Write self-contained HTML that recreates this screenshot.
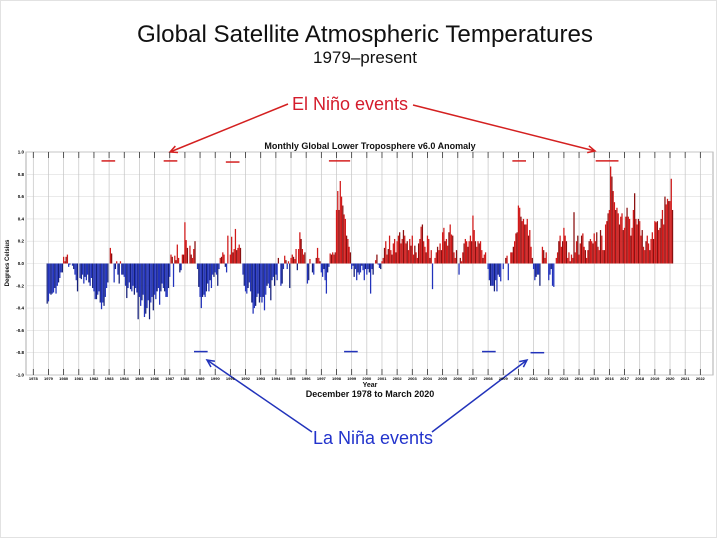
<!DOCTYPE html>
<html><head><meta charset="utf-8"><style>
html,body{margin:0;padding:0;background:#fff}
#wrap{position:relative;width:720px;height:540px;overflow:hidden;font-family:"Liberation Sans",sans-serif}
svg{position:absolute;left:0;top:0}
</style></head><body>
<div id="wrap">
<svg id="chart" width="720" height="540">
<rect x="0.5" y="0.5" width="716" height="537" fill="#fff" stroke="#e2e2e2"/>
<text x="365" y="42" font-size="24" text-anchor="middle" fill="#111" textLength="456" lengthAdjust="spacingAndGlyphs">Global Satellite Atmospheric Temperatures</text>
<text x="365" y="63" font-size="17" text-anchor="middle" fill="#111">1979–present</text>
<text x="350" y="110" font-size="18" text-anchor="middle" fill="#d41c2c">El Niño events</text>
<text x="373" y="444" font-size="18" text-anchor="middle" fill="#2233cc">La Niña events</text>
<text x="370" y="149" font-size="9" font-weight="bold" text-anchor="middle" fill="#111">Monthly Global Lower Troposphere v6.0 Anomaly</text>
<text x="370" y="387" font-size="7" font-weight="bold" text-anchor="middle" fill="#111">Year</text>
<text x="370" y="397" font-size="9" font-weight="bold" text-anchor="middle" fill="#111">December 1978 to March 2020</text>
<text transform="translate(9,263) rotate(-90)" font-size="6" font-weight="bold" text-anchor="middle" fill="#111">Degrees Celsius</text>
<text x="573" y="362" font-size="3.5" fill="#777">Copyright 2020 © University of Alabama in Huntsville</text>
<g id="grid"></g><g id="bars"></g><g id="marks"></g><g id="axes"></g>
</svg>
</div>
<script>
const startYear = 1978 + 11/12;
const anomalies = [
-0.36,
-0.34,-0.27,-0.28,-0.27,-0.26,-0.22,-0.27,-0.2,-0.17,-0.13,-0.08,-0.08,
0.06,0.02,0.06,0.08,-0.03,-0.01,0.0,-0.02,-0.05,-0.1,-0.15,-0.25,
0.0,-0.13,-0.14,-0.1,-0.18,-0.12,-0.15,-0.1,-0.17,-0.2,-0.13,-0.22,
-0.25,-0.32,-0.32,-0.28,-0.25,-0.35,-0.41,-0.35,-0.38,-0.3,-0.22,-0.17,
0.0,0.14,0.09,0.0,-0.17,-0.05,0.02,-0.1,-0.18,0.02,-0.1,-0.1,
-0.12,-0.2,-0.31,-0.22,-0.17,-0.23,-0.25,-0.2,-0.28,-0.22,-0.26,-0.5,
-0.3,-0.38,-0.33,-0.28,-0.48,-0.45,-0.4,-0.33,-0.5,-0.35,-0.3,-0.42,
-0.28,-0.32,-0.25,-0.22,-0.37,-0.25,-0.18,-0.22,-0.25,-0.3,-0.3,-0.22,
-0.12,0.08,0.06,-0.21,0.07,0.03,0.17,0.05,-0.08,-0.06,0.08,0.08,
0.37,0.21,0.14,0.0,0.16,0.08,0.05,0.13,0.2,0.0,-0.05,-0.21,
-0.3,-0.4,-0.3,-0.28,-0.3,-0.25,-0.18,-0.25,-0.15,-0.22,-0.1,-0.12,
-0.08,-0.1,-0.2,-0.05,0.05,0.06,0.1,0.08,-0.03,-0.08,0.25,0.0,
0.08,0.24,0.1,0.13,0.31,0.12,0.14,0.17,0.14,0.0,-0.1,-0.2,
-0.25,-0.27,-0.22,-0.17,-0.25,-0.35,-0.45,-0.4,-0.38,-0.3,-0.27,-0.35,
-0.3,-0.35,-0.3,-0.42,-0.28,-0.2,-0.18,-0.22,-0.33,-0.15,-0.12,-0.2,
-0.1,-0.15,0.05,0.0,-0.2,-0.18,-0.05,0.07,0.03,-0.05,0.02,-0.22,
0.05,0.08,0.06,0.04,0.13,-0.06,0.13,0.28,0.22,0.13,0.08,0.1,
0.0,-0.18,-0.15,0.04,0.0,-0.08,-0.1,0.0,0.05,0.14,0.05,0.02,
-0.08,-0.12,-0.05,-0.15,-0.27,-0.08,-0.03,0.09,0.08,0.1,0.08,0.1,
0.48,0.65,0.48,0.74,0.6,0.52,0.44,0.4,0.25,0.22,0.15,0.1,
-0.05,-0.02,-0.12,-0.05,-0.15,-0.08,-0.1,-0.08,-0.02,-0.06,-0.15,-0.05,
-0.1,-0.05,-0.08,-0.27,-0.05,-0.1,0.0,0.03,0.08,-0.01,-0.04,-0.05,
0.02,0.05,0.14,0.2,0.08,0.13,0.25,0.12,0.08,0.18,0.22,0.1,
0.2,0.25,0.28,0.18,0.22,0.3,0.25,0.18,0.2,0.12,0.22,0.16,
0.25,0.08,0.16,0.1,0.05,0.18,0.22,0.33,0.35,0.2,0.15,0.1,
0.25,0.22,0.05,0.12,-0.23,0.0,0.05,0.1,0.15,0.12,0.18,0.12,
0.28,0.32,0.2,0.22,0.16,0.28,0.35,0.26,0.25,0.1,0.05,0.12,
0.0,-0.1,0.05,0.02,0.1,0.18,0.22,0.2,0.15,0.2,0.25,0.2,
0.43,0.3,0.2,0.15,0.2,0.18,0.2,0.12,0.05,0.08,0.1,0.0,
-0.05,-0.15,-0.2,-0.2,-0.2,-0.25,-0.15,-0.25,-0.1,-0.12,-0.16,0.0,
-0.05,0.0,0.05,0.07,-0.15,0.0,0.1,0.1,0.15,0.2,0.27,0.28,
0.52,0.5,0.42,0.38,0.4,0.35,0.35,0.4,0.25,0.3,0.15,0.05,
-0.05,-0.15,-0.12,-0.1,-0.1,-0.2,0.0,0.15,0.12,0.05,0.1,0.0,
-0.15,-0.1,-0.05,-0.2,-0.21,0.0,0.05,0.1,0.2,0.25,0.15,0.2,
0.32,0.25,0.2,0.05,0.1,0.02,0.08,0.05,0.46,0.1,0.2,0.25,
0.08,0.18,0.25,0.27,0.15,0.12,0.05,0.12,0.2,0.22,0.2,0.18,
0.27,0.2,0.28,0.15,0.12,0.3,0.25,0.12,0.12,0.35,0.38,0.45,
0.48,0.87,0.78,0.65,0.55,0.48,0.5,0.45,0.35,0.42,0.45,0.3,
0.32,0.42,0.5,0.42,0.4,0.25,0.32,0.48,0.63,0.4,0.35,0.4,
0.38,0.25,0.3,0.15,0.12,0.2,0.25,0.18,0.12,0.22,0.28,0.22,
0.38,0.37,0.38,0.3,0.32,0.4,0.48,0.35,0.6,0.53,0.58,0.56,
0.56,0.76,0.48
];
const yearTicks = [1978,1979,1980,1981,1982,1983,1984,1985,1986,1987,1988,1989,1990,1991,1992,1993,1994,1995,1996,1997,1998,1999,2000,2001,2002,2003,2004,2005,2006,2007,2008,2009,2010,2011,2012,2013,2014,2015,2016,2017,2018,2019,2020,2021,2022];
const yTicks = [1.0,0.8,0.6,0.4,0.2,0.0,-0.2,-0.4,-0.6,-0.8,-1.0];
const elNinoStart = [1982.5,1986.6,1990.7,1997.5,2009.6,2015.1];
const elNinoEnd = [1983.4,1987.5,1991.6,1998.9,2010.5,2016.6];
const elNinoLevel = [0.92,0.92,0.91,0.92,0.92,0.92];
const laNinaStart = [1988.6,1998.5,2007.6,2010.8];
const laNinaEnd = [1989.5,1999.4,2008.5,2011.7];
const laNinaLevel = [-0.79,-0.79,-0.79,-0.8];

const PL=26, PR=713, PT=152, PB=375;
const xs = y => 33.3 + (y-1978)*15.16;
const ys = v => 263.5 - v*(PB-PT)/2;
const NS='http://www.w3.org/2000/svg';
function mk(tag, parent){const e=document.createElementNS(NS,tag);document.getElementById(parent).appendChild(e);return e;}

const bg = mk('rect','grid');
bg.setAttribute('x',PL);bg.setAttribute('y',PT);bg.setAttribute('width',PR-PL);bg.setAttribute('height',PB-PT);
bg.setAttribute('fill','#fff');bg.setAttribute('stroke','#999');bg.setAttribute('stroke-width','0.8');



yTicks.forEach(t=>{
  const l=mk('line','grid');
  l.setAttribute('x1',PL);l.setAttribute('x2',PR);l.setAttribute('y1',ys(t));l.setAttribute('y2',ys(t));
  l.setAttribute('stroke','#ddd');l.setAttribute('stroke-width','0.6');
  
  
  const tx=mk('text','axes');
  tx.setAttribute('x',PL-2);tx.setAttribute('y',ys(t)+1.5);tx.setAttribute('font-size','4.5');tx.setAttribute('text-anchor','end');tx.setAttribute('font-weight','bold');
  tx.textContent=t.toFixed(1);
  
  
});
yearTicks.forEach(yr=>{
  const x=xs(yr);
  const l=mk('line','grid');
  l.setAttribute('x1',x);l.setAttribute('x2',x);l.setAttribute('y1',PT);l.setAttribute('y2',PB);
  l.setAttribute('stroke','#c4c4c4');l.setAttribute('stroke-width','0.7');
  
  
  [PT,PB-6].forEach(y0=>{
    const tk=mk('line','axes');
    tk.setAttribute('x1',x);tk.setAttribute('x2',x);tk.setAttribute('y1',y0);tk.setAttribute('y2',y0+6);
    tk.setAttribute('stroke','#333');tk.setAttribute('stroke-width','0.8');
    
    
  });
  const tx=mk('text','axes');
  tx.setAttribute('x',x);tx.setAttribute('y',PB+5);tx.setAttribute('font-size','4');tx.setAttribute('text-anchor','middle');tx.setAttribute('font-weight','bold');
  tx.textContent=yr;
  
  
});
const bw=15.16/12;
anomalies.forEach((v,i)=>{
  const x=xs(startYear+i/12);
  const r=mk('rect','bars');
  r.setAttribute('x',x-bw/2);r.setAttribute('width',bw);
  r.setAttribute('y',Math.min(ys(v),ys(0)));r.setAttribute('height',Math.abs(ys(v)-ys(0)));
  r.setAttribute('fill',v>=0?(i%3==0?'#8a1010':'#d01a1a'):(i%3==0?'#14207a':'#2233bb'));
  
  
});
elNinoStart.forEach((s,i)=>{
  const l=mk('line','marks');
  l.setAttribute('x1',xs(s));l.setAttribute('x2',xs(elNinoEnd[i]));l.setAttribute('y1',ys(elNinoLevel[i]));l.setAttribute('y2',ys(elNinoLevel[i]));
  l.setAttribute('stroke','#d42020');l.setAttribute('stroke-width','1.5');
  
  
});
laNinaStart.forEach((s,i)=>{
  const l=mk('line','marks');
  l.setAttribute('x1',xs(s));l.setAttribute('x2',xs(laNinaEnd[i]));l.setAttribute('y1',ys(laNinaLevel[i]));l.setAttribute('y2',ys(laNinaLevel[i]));
  l.setAttribute('stroke','#2233bb');l.setAttribute('stroke-width','1.5');
  
  
});
function arrow(x1,y1,x2,y2,col,name){
  const l=mk('line','marks');
  l.setAttribute('x1',x1);l.setAttribute('y1',y1);l.setAttribute('x2',x2);l.setAttribute('y2',y2);
  l.setAttribute('stroke',col);l.setAttribute('stroke-width','1.5');
  
  
  const a=Math.atan2(y2-y1,x2-x1), L=8, w=0.45;
  const p=mk('path','marks');
  p.setAttribute('d',`M${x2-L*Math.cos(a-w)},${y2-L*Math.sin(a-w)} L${x2},${y2} L${x2-L*Math.cos(a+w)},${y2-L*Math.sin(a+w)}`);
  p.setAttribute('fill','none');p.setAttribute('stroke',col);p.setAttribute('stroke-width','1.5');
  
  
}
arrow(288,104,170,152,'#d42020','el-nino-arrow-left');
arrow(413,105,595,151,'#d42020','el-nino-arrow-right');
arrow(312,432,207,360,'#2233bb','la-nina-arrow-left');
arrow(432,432,527,360,'#2233bb','la-nina-arrow-right');
</script>
</body></html>
